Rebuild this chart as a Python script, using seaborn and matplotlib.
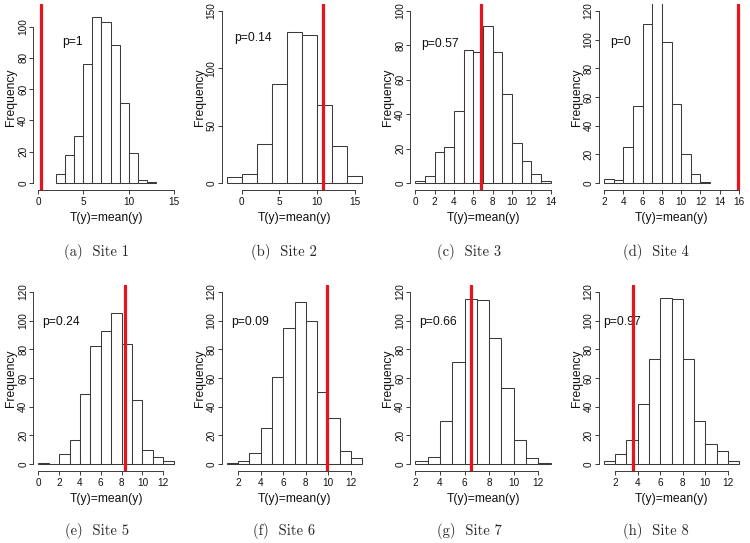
import numpy as np
import pandas as pd
import matplotlib
matplotlib.use("Agg")
import matplotlib.pyplot as plt
import seaborn as sns

# Posterior predictive histograms of T(y)=mean(y), one per site
sites = ["Site 1", "Site 2", "Site 3", "Site 4", "Site 5", "Site 6", "Site 7", "Site 8"]
tags = ["(a)", "(b)", "(c)", "(d)", "(e)", "(f)", "(g)", "(h)"]
p_values = ["p=1", "p=0.14", "p=0.57", "p=0", "p=0.24", "p=0.09", "p=0.66", "p=0.97"]

# first bin edge and bin width of each histogram
bin_start = [2, -2, 0, 2, 0, 1, 2, 1]
bin_width = [1, 2, 1, 1, 1, 1, 1, 1]

counts = [
    [6, 18, 30, 76, 106, 103, 88, 51, 19, 2, 1],
    [5, 8, 34, 86, 132, 129, 68, 32, 6],
    [1, 4, 18, 21, 42, 77, 76, 91, 76, 52, 23, 13, 5, 1],
    [3, 2, 25, 54, 111, 135, 98, 55, 20, 6, 1],
    [1, 0, 7, 17, 49, 82, 93, 105, 84, 45, 10, 5, 2],
    [1, 2, 8, 25, 61, 95, 113, 100, 50, 32, 9, 4],
    [2, 5, 30, 71, 115, 114, 88, 53, 17, 4, 1],
    [2, 7, 17, 42, 73, 116, 115, 73, 30, 14, 9, 2],
]

# observed statistic (red line)
observed = [0.25, 10.75, 6.8, 15.93, 8.3, 9.85, 6.5, 3.55]

# axis ranges and ticks
x_range = [(0, 15), (-2, 16), (0, 14), (2, 16), (0, 13), (1, 13), (2, 13), (1, 13)]
y_range = [(0, 110), (0, 150), (0, 100), (0, 120), (0, 120), (0, 120), (0, 120), (0, 120)]
x_ticks = [
    [0, 5, 10, 15],
    [0, 5, 10, 15],
    [0, 2, 4, 6, 8, 10, 12, 14],
    [2, 4, 6, 8, 10, 12, 14, 16],
    [0, 2, 4, 6, 8, 10, 12],
    [2, 4, 6, 8, 10, 12],
    [2, 4, 6, 8, 10, 12],
    [2, 4, 6, 8, 10, 12],
]
y_ticks = [
    [0, 20, 40, 60, 80, 100],
    [0, 50, 100, 150],
    [0, 20, 40, 60, 80, 100],
    [0, 20, 40, 60, 80, 100, 120],
    [0, 20, 40, 60, 80, 100, 120],
    [0, 20, 40, 60, 80, 100, 120],
    [0, 20, 40, 60, 80, 100, 120],
    [0, 20, 40, 60, 80, 100, 120],
]

# where the p-value label sits (data coords)
p_pos = [(3.8, 90), (1.5, 126), (2.5, 81), (3.7, 98), (2.2, 99), (3.1, 99), (3.85, 99), (2.6, 99)]

sns.set_style("white")
plt.rcParams["font.family"] = ["Liberation Sans", "DejaVu Sans"]

W, H = 750, 543
fig = plt.figure(figsize=(W / 100, H / 100), dpi=100)

col_left = [33, 221.5, 410, 598.5]
caption_x = [97, 284, 469, 656]
caption_y = [252, 531]
row_top = [4, 285]
ax_w, ax_h = 146, 186
line_col = "#3a3a3a"

for i in range(8):
    r, c = divmod(i, 4)
    ax = fig.add_axes([col_left[c] / W, 1 - (row_top[r] + ax_h) / H, ax_w / W, ax_h / H])

    edges = [bin_start[i] + bin_width[i] * k for k in range(len(counts[i]) + 1)]
    df = pd.DataFrame({"mid": [e + bin_width[i] / 2 for e in edges[:-1]], "n": counts[i]})
    sns.histplot(data=df, x="mid", weights="n", bins=edges, ax=ax,
                 color="white", edgecolor=line_col, linewidth=0.75, alpha=1)

    ax.axvline(observed[i], color="#e8131b", lw=2.3, zorder=5)

    # R-like padding of 4% around the ranges
    x0, x1 = x_range[i]
    y0, y1 = y_range[i]
    dx, dy = 0.04 * (x1 - x0), 0.04 * (y1 - y0)
    ax.set_xlim(x0 - dx, x1 + dx)
    ax.set_ylim(y0 - dy, y1 + dy)

    ax.set_xticks(x_ticks[i])
    ax.set_yticks(y_ticks[i])
    ax.set_yticklabels([str(t) for t in y_ticks[i]], rotation=90, va="center")
    ax.tick_params(axis="both", direction="out", length=3, width=0.7,
                   color=line_col, labelsize=7.2, labelcolor="#111111")
    ax.tick_params(axis="x", bottom=True, pad=2)
    ax.tick_params(axis="y", left=True, pad=0.5)

    for side in ["top", "right"]:
        ax.spines[side].set_visible(False)
    ax.spines["bottom"].set_bounds(x_ticks[i][0], x_ticks[i][-1])
    ax.spines["left"].set_bounds(y_ticks[i][0], y_ticks[i][-1])
    for side in ["bottom", "left"]:
        ax.spines[side].set_color(line_col)
        ax.spines[side].set_linewidth(0.7)

    ax.set_xlabel("T(y)=mean(y)", fontsize=8.7, labelpad=3.5, color="#111111")
    ax.set_ylabel("Frequency", fontsize=8.7, labelpad=0.5, color="#111111")

    px, py = p_pos[i]
    ax.text(px, py, p_values[i], fontsize=8.7, ha="center", va="center", color="#111111")

    fig.text(caption_x[c] / W, 1 - caption_y[r] / H, f"{tags[i]}  {sites[i]}",
             ha="center", va="center", fontsize=10.5, family=["cmr10", "DejaVu Serif"])

fig.savefig("out.png", dpi=100)
